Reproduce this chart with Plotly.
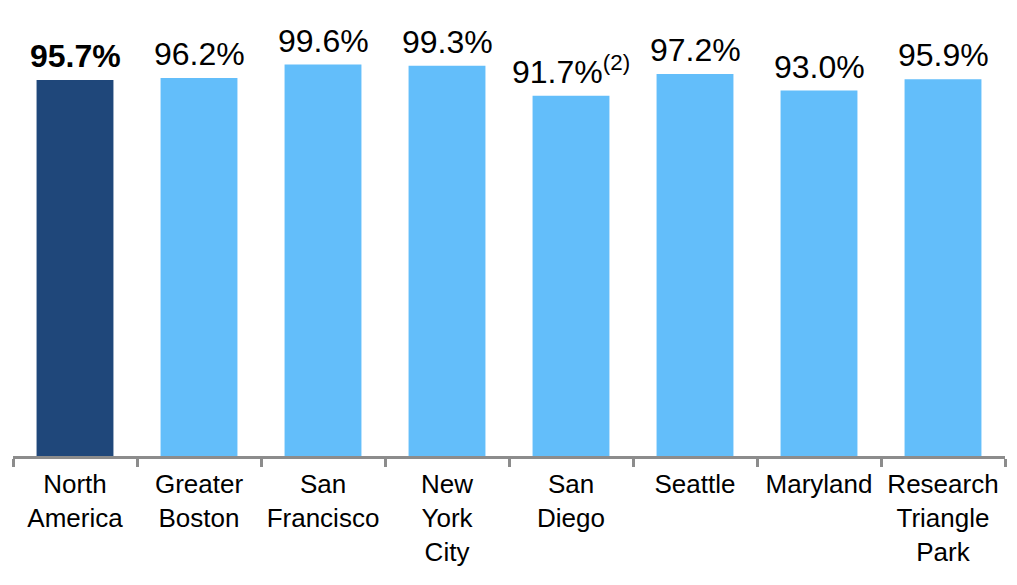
import plotly.graph_objects as go

# occupancy by market
markets = ["North<br>America", "Greater<br>Boston", "San<br>Francisco", "New<br>York<br>City",
           "San<br>Diego", "Seattle", "Maryland", "Research<br>Triangle<br>Park"]
occupancy = [95.7, 96.2, 99.6, 99.3, 91.7, 97.2, 93.0, 95.9]
value_labels = ["<b>95.7%</b>", "96.2%", "99.6%", "99.3%", "91.7%<sup>(2)</sup>", "97.2%", "93.0%", "95.9%"]

bar_colors = ["#1F477A"] + ["#63BEFA"] * 7

fig = go.Figure()
fig.add_trace(go.Bar(x=markets, y=occupancy, marker_color=bar_colors,
                     marker_line_width=0, width=0.62))

for m, v, lab in zip(markets, occupancy, value_labels):
    fig.add_annotation(x=m, y=v, text=lab, showarrow=False, yanchor="bottom",
                       yshift=4, font=dict(size=32, color="black"))

# page body adds 8px, so the figure is a bit smaller than the window
fig.update_layout(
    width=1009, height=577,
    margin=dict(l=5, r=12, t=0, b=129, autoexpand=False),
    plot_bgcolor="white", paper_bgcolor="white",
    font=dict(family="Arial, Liberation Sans, sans-serif", color="black"),
    showlegend=False,
)
fig.update_xaxes(range=[-0.5, 7.5], showline=True, linecolor="#8C8C8C", linewidth=3,
                 ticks="outside", tickson="boundaries", ticklen=8, tickwidth=3,
                 tickcolor="#8C8C8C", tickfont=dict(size=26, color="black"),
                 ticklabelstandoff=3, tickangle=0, automargin=False, showgrid=False)
fig.update_yaxes(range=[0, 114], visible=False, showgrid=False)

fig.write_html("out.html")
